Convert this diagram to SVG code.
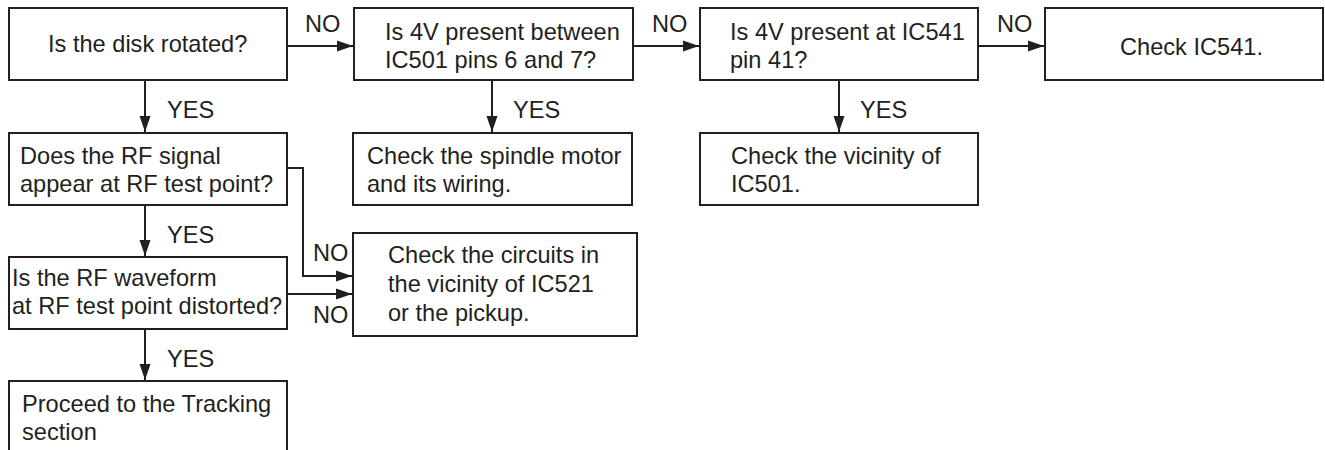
<svg xmlns="http://www.w3.org/2000/svg" width="1325" height="450" viewBox="0 0 1325 450">
<style>
.box{fill:#fff;stroke:#231f20;stroke-width:2}
.t{font-family:"Liberation Sans",Arial,sans-serif;font-size:23.6px;fill:#231f20}
.c{fill:none;stroke:#231f20;stroke-width:2}
</style>
<defs>
<marker id="ah" markerUnits="userSpaceOnUse" markerWidth="16" markerHeight="12" refX="16" refY="6" orient="auto">
<path d="M0,0.5 L16,6 L0,11.5 z" fill="#231f20"/>
</marker>
</defs>
<rect width="1325" height="450" fill="#fff"/>
<g id="connectors">
<line class="c" x1="287" y1="46" x2="353" y2="46" marker-end="url(#ah)"/>
<line class="c" x1="633" y1="46" x2="699" y2="46" marker-end="url(#ah)"/>
<line class="c" x1="978" y1="46" x2="1044" y2="46" marker-end="url(#ah)"/>
<line class="c" x1="145" y1="80" x2="145" y2="132" marker-end="url(#ah)"/>
<line class="c" x1="492" y1="80" x2="492" y2="132" marker-end="url(#ah)"/>
<line class="c" x1="839" y1="80" x2="839" y2="132" marker-end="url(#ah)"/>
<line class="c" x1="145" y1="205" x2="145" y2="256" marker-end="url(#ah)"/>
<line class="c" x1="145" y1="329" x2="145" y2="380" marker-end="url(#ah)"/>
<polyline class="c" points="287,168 303,168 303,276 352,276" marker-end="url(#ah)"/>
<line class="c" x1="287" y1="294" x2="352" y2="294" marker-end="url(#ah)"/>
<text class="t" x="305" y="32">NO</text>
<text class="t" x="652" y="32">NO</text>
<text class="t" x="997" y="32">NO</text>
<text class="t" x="167" y="118">YES</text>
<text class="t" x="513" y="118">YES</text>
<text class="t" x="860" y="118">YES</text>
<text class="t" x="167" y="243">YES</text>
<text class="t" x="167" y="367">YES</text>
<text class="t" x="313" y="261">NO</text>
<text class="t" x="313" y="323">NO</text>
</g>
<g id="n1"><rect class="box" x="9" y="8" width="278" height="72"/><text class="t" x="48" y="52">Is the disk rotated?</text></g>
<g id="n2"><rect class="box" x="354" y="8" width="279" height="72"/><text class="t" x="385" y="40">Is 4V present between</text><text class="t" x="385" y="68">IC501 pins 6 and 7?</text></g>
<g id="n3"><rect class="box" x="700" y="8" width="278" height="72"/><text class="t" x="730" y="40">Is 4V present at IC541</text><text class="t" x="730" y="68">pin 41?</text></g>
<g id="n4"><rect class="box" x="1045" y="8" width="278" height="72"/><text class="t" x="1120" y="55">Check IC541.</text></g>
<g id="n5"><rect class="box" x="9" y="133" width="278" height="72"/><text class="t" x="20" y="164">Does the RF signal</text><text class="t" x="20" y="192">appear at RF test point?</text></g>
<g id="n6"><rect class="box" x="353" y="133" width="279" height="72"/><text class="t" x="367" y="164">Check the spindle motor</text><text class="t" x="367" y="192">and its wiring.</text></g>
<g id="n7"><rect class="box" x="700" y="133" width="278" height="72"/><text class="t" x="731" y="164">Check the vicinity of</text><text class="t" x="731" y="192">IC501.</text></g>
<g id="n8"><rect class="box" x="9" y="257" width="278" height="72"/><text class="t" x="12" y="286">Is the RF waveform</text><text class="t" x="12" y="314">at RF test point distorted?</text></g>
<g id="n9"><rect class="box" x="353" y="233" width="284" height="103"/><text class="t" x="388" y="263">Check the circuits in</text><text class="t" x="388" y="292">the vicinity of IC521</text><text class="t" x="388" y="321">or the pickup.</text></g>
<g id="n10"><rect class="box" x="9" y="381" width="278" height="80"/><text class="t" x="22" y="412">Proceed to the Tracking</text><text class="t" x="22" y="440">section</text></g>
</svg>
